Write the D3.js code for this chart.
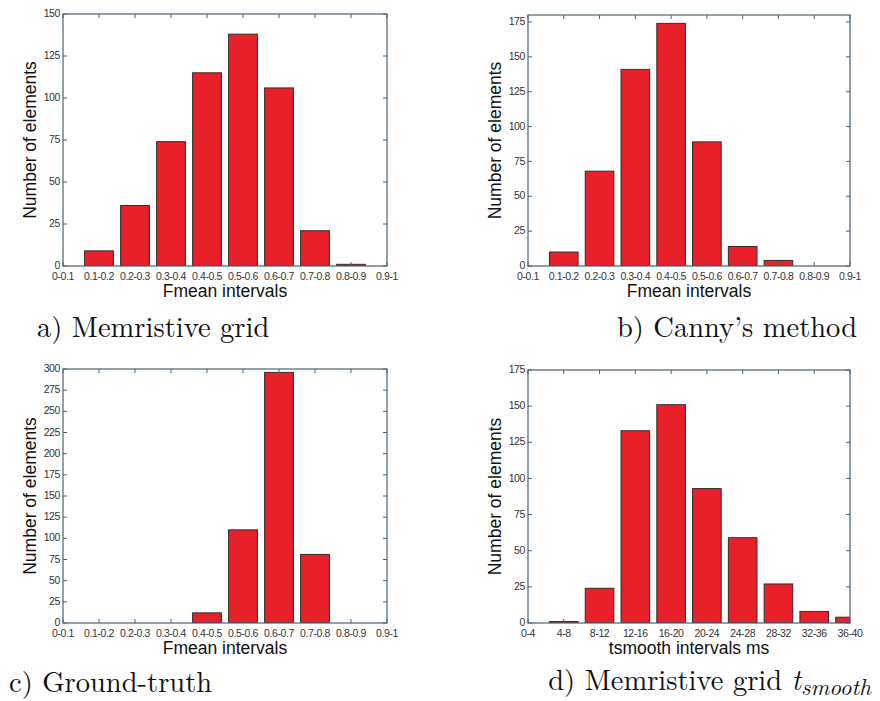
<!DOCTYPE html>
<html>
<head>
<meta charset="utf-8">
<script src="https://cdn.jsdelivr.net/npm/d3@7"></script>
<style>
  body { margin: 0; background: #fff; }
  svg { display: block; }
</style>
</head>
<body>
<script>
// interval labels for the x axes
const fmeanLabels = ['0-0.1', '0.1-0.2', '0.2-0.3', '0.3-0.4', '0.4-0.5',
    '0.5-0.6', '0.6-0.7', '0.7-0.8', '0.8-0.9', '0.9-1'];
const tsmoothLabels = ['0-4', '4-8', '8-12', '12-16', '16-20',
    '20-24', '24-28', '28-32', '32-36', '36-40'];

// counts
const memristiveCounts = [0, 9, 36, 74, 115, 138, 106, 21, 1, 0];
const cannyCounts = [0, 10, 68, 141, 174, 89, 14, 4, 0, 0];
const groundTruthCounts = [0, 0, 0, 0, 12, 110, 296, 81, 0, 0];
const tsmoothCounts = [0, 1, 24, 133, 151, 93, 59, 27, 8, 4];

const yMaxes = [150, 180, 300, 175];
const yStep = 25;

const W = 880, H = 701;
const axisColor = "#4b6270";
const barColor = "#e8202a";
const sansFont = "Liberation Sans, Arial, sans-serif";

const svg = d3.select("body").append("svg")
    .attr("width", W)
    .attr("height", H);

// one MATLAB-style bar histogram
function drawPanel(p, idx) {
    const x = d3.scaleLinear().domain([0, p.labels.length - 1]).range([p.left, p.right]);
    const y = d3.scaleLinear().domain([0, yMaxes[idx]]).range([p.bottom, p.top]);
    const g = svg.append("g");

    const clipId = "clip" + idx;
    g.append("clipPath").attr("id", clipId)
        .append("rect")
        .attr("x", p.left).attr("y", p.top)
        .attr("width", p.right - p.left).attr("height", p.bottom - p.top);

    const bw = 0.8;
    g.append("g").attr("clip-path", "url(#" + clipId + ")")
        .selectAll("rect")
        .data(p.values.map((v, i) => ({ v, i })).filter(d => d.v > 0))
        .enter().append("rect")
        .attr("x", d => x(d.i - bw / 2))
        .attr("y", d => y(d.v))
        .attr("width", d => x(d.i + bw / 2) - x(d.i - bw / 2))
        .attr("height", d => y(0) - y(d.v))
        .attr("fill", barColor)
        .attr("stroke", "#3a2a2a")
        .attr("stroke-width", 1);

    // axes box
    g.append("rect")
        .attr("x", p.left).attr("y", p.top)
        .attr("width", p.right - p.left).attr("height", p.bottom - p.top)
        .attr("fill", "none")
        .attr("stroke", axisColor)
        .attr("stroke-width", 1.2);

    // inward ticks on all four sides
    const tk = 4;
    const yTicks = d3.range(0, yMaxes[idx] + 1, yStep);
    const xIdx = d3.range(p.labels.length);
    g.selectAll(".xtb").data(xIdx).enter().append("line")
        .attr("x1", d => x(d)).attr("x2", d => x(d))
        .attr("y1", p.bottom).attr("y2", p.bottom - tk)
        .attr("stroke", axisColor);
    g.selectAll(".xtt").data(xIdx).enter().append("line")
        .attr("x1", d => x(d)).attr("x2", d => x(d))
        .attr("y1", p.top).attr("y2", p.top + tk)
        .attr("stroke", axisColor);
    g.selectAll(".ytl").data(yTicks).enter().append("line")
        .attr("x1", p.left).attr("x2", p.left + tk)
        .attr("y1", d => y(d)).attr("y2", d => y(d))
        .attr("stroke", axisColor);
    g.selectAll(".ytr").data(yTicks).enter().append("line")
        .attr("x1", p.right).attr("x2", p.right - tk)
        .attr("y1", d => y(d)).attr("y2", d => y(d))
        .attr("stroke", axisColor);

    // tick labels
    g.selectAll(".yl").data(yTicks).enter().append("text")
        .attr("x", p.left - 3)
        .attr("y", d => y(d))
        .attr("dy", "0.3em")
        .attr("text-anchor", "end")
        .attr("font-family", sansFont)
        .attr("font-size", 10.5)
        .attr("letter-spacing", -0.4)
        .attr("fill", "#333")
        .text(d => d);
    g.selectAll(".xl").data(p.labels).enter().append("text")
        .attr("x", (d, i) => x(i))
        .attr("y", p.bottom + 14)
        .attr("text-anchor", "middle")
        .attr("font-family", sansFont)
        .attr("font-size", 10.5)
        .attr("letter-spacing", -0.4)
        .attr("fill", "#333")
        .text(d => d);

    // axis titles
    g.append("text")
        .attr("x", (p.left + p.right) / 2)
        .attr("y", p.bottom + 31)
        .attr("text-anchor", "middle")
        .attr("font-family", sansFont)
        .attr("font-size", 17.5)
        .attr("fill", "#111")
        .text(p.xTitle);
    g.append("text")
        .attr("transform", "translate(" + (p.left - 27) + "," + ((p.top + p.bottom) / 2) + ") rotate(-90)")
        .attr("text-anchor", "middle")
        .attr("font-family", sansFont)
        .attr("font-size", 17.5)
        .attr("fill", "#111")
        .text("Number of elements");
}

const panels = [
    { labels: fmeanLabels, values: memristiveCounts, left: 63, right: 387, top: 14, bottom: 266, xTitle: "Fmean intervals" },
    { labels: fmeanLabels, values: cannyCounts, left: 528, right: 850, top: 15, bottom: 266, xTitle: "Fmean intervals" },
    { labels: fmeanLabels, values: groundTruthCounts, left: 63, right: 387, top: 369, bottom: 623, xTitle: "Fmean intervals" },
    { labels: tsmoothLabels, values: tsmoothCounts, left: 528, right: 850, top: 370, bottom: 623, xTitle: "tsmooth intervals ms" }
];
panels.forEach(drawPanel);

// captions under each panel
const capFont = "Latin Modern Roman, Liberation Serif, Times New Roman, serif";
function caption(txt, x, y, anchor) {
    return svg.append("text")
        .attr("x", x).attr("y", y)
        .attr("text-anchor", anchor)
        .attr("font-family", capFont)
        .attr("font-size", 28.5)
        .attr("fill", "#111")
        .text(txt);
}
caption("a) Memristive grid", 37, 337, "start");
caption("b) Canny\u2019s method", 857, 337, "end");
caption("c) Ground-truth", 9, 692, "start");
const capD = caption("d) Memristive grid ", 871, 690, "end");
capD.append("tspan").attr("font-style", "italic").text("t");
capD.append("tspan").attr("font-style", "italic").attr("font-size", 23).attr("dy", 5).text("smooth");
</script>
</body>
</html>
